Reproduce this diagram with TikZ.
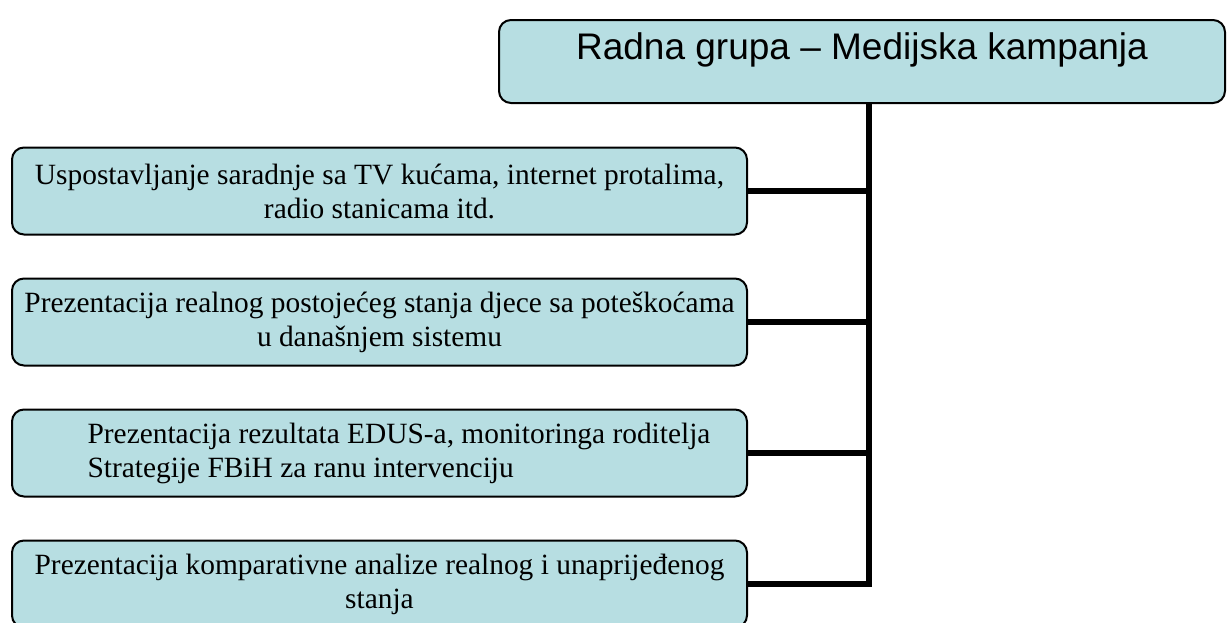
\documentclass[tikz,border=0pt]{standalone}
\usepackage{fontspec}
\setmainfont{Liberation Serif}
\newfontfamily\arialfont{Liberation Sans}
\definecolor{boxblue}{RGB}{183,222,226}
\tikzset{t/.style={draw=black, fill=boxblue, line width=1pt, rounded corners=6pt, minimum width=363pt, inner ysep=0pt, text height=19.5pt, text depth=22pt, font=\arialfont\fontsize{18.5}{22}\selectfont},
        k/.style={draw=black, fill=boxblue, line width=1pt, rounded corners=6pt, minimum width=367.5pt, minimum height=43.5pt, align=center, font=\fontsize{14.7}{17}\selectfont},
        c/.style={draw=black, line width=2.6pt}}

\begin{document}
\begin{tikzpicture}[x=0.5pt, y=-0.5pt]
    \useasboundingbox (0,0) rectangle (1227,622);
    % top box
    \node[t] (rg) at (862,61.5) {Radna grupa – Medijska kampanja};

    % the four tasks
    \node[k] (b1) at (379.5,191) {Uspostavljanje saradnje sa TV kućama, internet protalima,\\ radio stanicama itd.};
    \node[k] (b2) at (379.5,322) {Prezentacija realnog postojećeg stanja djece sa poteškoćama\\ u današnjem sistemu};
    \node[k, align=left] (b3) at (379.5,453) {\hspace*{19.5pt}Prezentacija rezultata EDUS-a, monitoringa roditelja\\ \hspace*{19.5pt}Strategije FBiH za ranu intervenciju};
    \node[k] (b4) at (379.5,584) {Prezentacija komparativne analize realnog i unaprijeđenog\\ stanja};

    % connectors
    \coordinate (v) at (869,103);
    \draw[c, line width=3pt] (v) |- (b4.east);
    \foreach \i in {1,2,3}
      \draw[c] (b\i.east) -- (b\i.east -| v);
\end{tikzpicture}
\end{document}
